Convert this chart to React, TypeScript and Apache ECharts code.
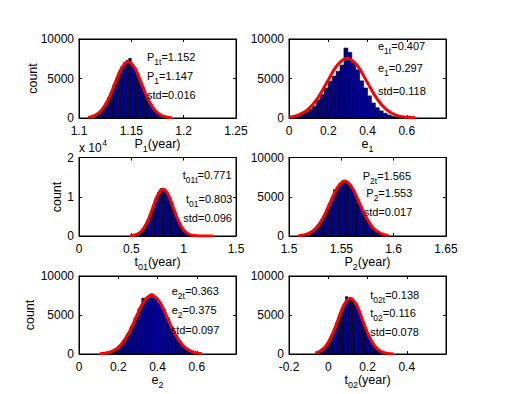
import React, { useEffect, useRef } from "react";
import * as echarts from "echarts";

const FONT = '"Liberation Sans", Arial, Helvetica, sans-serif';

// ---------- Data ----------
// Panel 1: P1 (year)
const p1BinStart = 1.115;
const p1BinWidth = 0.0025;
const p1Counts = [400, 640, 960, 1400, 1950, 2600, 3350, 4300, 5000, 5900, 6500, 7000, 7300, 7550, 6800, 6250, 5500, 4700, 3850, 3050, 2300, 1700, 1200, 800, 530, 330, 200, 110];
const p1CurveX = [1.1086, 1.115, 1.1214, 1.1278, 1.1342, 1.1406, 1.147, 1.1534, 1.1598, 1.1662, 1.1726, 1.179, 1.1854, 1.189];
const p1CurveY = [79, 313, 965, 2315, 4324, 6292, 7130, 6292, 4324, 2315, 965, 313, 79, 33];

// Panel 2: e1
const e1BinStart = 0.02;
const e1BinWidth = 0.02;
const e1Counts = [150, 300, 560, 800, 1100, 1500, 2300, 2950, 3800, 4650, 5300, 5900, 6700, 8850, 8300, 7000, 6100, 4700, 3800, 2800, 1900, 1300, 900, 600, 380, 220, 120, 60];
const e1CurveX = [0, 0.0435, 0.094, 0.1445, 0.195, 0.2455, 0.296, 0.3465, 0.397, 0.4475, 0.498, 0.5485, 0.599, 0.644];
const e1CurveY = [104, 332, 1023, 2455, 4585, 6672, 7560, 6672, 4585, 2455, 1023, 332, 84, 19];

// Panel 3: t01 (year)
const t01BinStart = 0.5;
const t01BinWidth = 0.025;
const t01Counts = [130, 280, 550, 1000, 1750, 2850, 4200, 5850, 7800, 9500, 11100, 12100, 11900, 11200, 9900, 8300, 6300, 4600, 3100, 1950, 1150, 650, 330, 160];
const t01CurveX = [0.487, 0.512, 0.5605, 0.609, 0.6575, 0.706, 0.7545, 0.803, 0.8515, 0.9, 0.9485, 0.997, 1.0455, 1.094, 1.1425, 1.191, 1.283];
const t01CurveY = [59, 133, 527, 1624, 3896, 7278, 10590, 12000, 10590, 7278, 3896, 1624, 527, 133, 26, 4, 0];

// Panel 4: P2 (year)
const p2BinStart = 1.515;
const p2BinWidth = 0.0025;
const p2Counts = [210, 330, 500, 760, 1060, 1500, 2050, 2600, 3350, 4100, 4800, 5900, 6200, 6650, 6950, 7050, 6800, 6450, 5950, 5200, 4500, 3750, 3000, 2350, 1750, 1300, 900, 620, 410, 260, 160, 100];
const p2CurveX = [1.509, 1.5185, 1.5254, 1.5324, 1.5393, 1.5463, 1.5532, 1.5602, 1.5671, 1.5741, 1.581, 1.588, 1.5949];
const p2CurveY = [45, 307, 947, 2273, 4246, 6178, 7000, 6178, 4246, 2273, 947, 307, 78];

// Panel 5: e2
const e2BinStart = 0.14;
const e2BinWidth = 0.02;
const e2Counts = [190, 360, 650, 1080, 1700, 2550, 3500, 4650, 5800, 7150, 7200, 7700, 7250, 6600, 5700, 4650, 3500, 2500, 1700, 1080, 640, 360, 190, 95];
const e2CurveX = [0.107, 0.127, 0.1675, 0.208, 0.2485, 0.289, 0.3295, 0.37, 0.4105, 0.451, 0.4915, 0.532, 0.5725, 0.613, 0.625];
const e2CurveY = [39, 84, 332, 1024, 2458, 4591, 6681, 7570, 6681, 4591, 2458, 1024, 332, 84, 53];

// Panel 6: t02 (year)
const t02BinStart = -0.0625;
const t02BinWidth = 0.0125;
const t02Counts = [200, 340, 540, 830, 1230, 1750, 2400, 3150, 4000, 4850, 5650, 6350, 7350, 7100, 7100, 6800, 6300, 5600, 4750, 3900, 3100, 2350, 1700, 1200, 800, 520, 330];
const t02CurveX = [-0.066, -0.0455, -0.014, 0.0175, 0.049, 0.0805, 0.112, 0.1435, 0.175, 0.2065, 0.238, 0.2695, 0.301, 0.333];
const t02CurveY = [132, 314, 967, 2322, 4336, 6310, 7150, 6310, 4336, 2322, 967, 314, 79, 16];

// Tick settings
const xTicks = [
  { min: 1.1, max: 1.25, interval: 0.05, hideMax: false },
  { min: 0, max: 0.8, interval: 0.2, hideMax: true },
  { min: 0, max: 1.5, interval: 0.5, hideMax: false },
  { min: 1.5, max: 1.65, interval: 0.05, hideMax: false },
  { min: 0, max: 0.8, interval: 0.2, hideMax: true },
  { min: -0.2, max: 0.6, interval: 0.2, hideMax: true },
];
const yTicks = [
  { max: 10000, interval: 5000, scale: 1 },
  { max: 10000, interval: 5000, scale: 1 },
  { max: 20000, interval: 10000, scale: 10000 },
  { max: 10000, interval: 5000, scale: 1 },
  { max: 10000, interval: 5000, scale: 1 },
  { max: 10000, interval: 5000, scale: 1 },
];

type Seg = { t: string; sub?: boolean; sup?: boolean };

// Annotation texts: [segments, x, y]
const annotations: [Seg[], number, number][] = [
  [[{ t: "P" }, { t: "1t", sub: true }, { t: "=1.152" }], 147, 57],
  [[{ t: "P" }, { t: "1", sub: true }, { t: "=1.147" }], 147, 75.5],
  [[{ t: "std=0.016" }], 147, 95],
  [[{ t: "e" }, { t: "1t", sub: true }, { t: "=0.407" }], 378, 46],
  [[{ t: "e" }, { t: "1", sub: true }, { t: "=0.297" }], 378, 67.5],
  [[{ t: "std=0.118" }], 378, 91],
  [[{ t: "t" }, { t: "01t", sub: true }, { t: "=0.771" }], 182.7, 175],
  [[{ t: "t" }, { t: "01", sub: true }, { t: "=0.803" }], 186, 199],
  [[{ t: "std=0.096" }], 183.3, 218],
  [[{ t: "P" }, { t: "2t", sub: true }, { t: "=1.565" }], 362.7, 176],
  [[{ t: "P" }, { t: "2", sub: true }, { t: "=1.553" }], 366.3, 193.3],
  [[{ t: "std=0.017" }], 363.7, 211.5],
  [[{ t: "e" }, { t: "2t", sub: true }, { t: "=0.363" }], 171.7, 291],
  [[{ t: "e" }, { t: "2", sub: true }, { t: "=0.375" }], 171.7, 310],
  [[{ t: "std=0.097" }], 170.7, 330],
  [[{ t: "t" }, { t: "02t", sub: true }, { t: "=0.138" }], 370.3, 295],
  [[{ t: "t" }, { t: "02", sub: true }, { t: "=0.116" }], 370.3, 312.5],
  [[{ t: "std=0.078" }], 370.3, 332],
];

const xTitles: Seg[][] = [
  [{ t: "P" }, { t: "1", sub: true }, { t: "(year)" }],
  [{ t: "e" }, { t: "1", sub: true }],
  [{ t: "t" }, { t: "01", sub: true }, { t: "(year)" }],
  [{ t: "P" }, { t: "2", sub: true }, { t: "(year)" }],
  [{ t: "e" }, { t: "2", sub: true }],
  [{ t: "t" }, { t: "02", sub: true }, { t: "(year)" }],
];

// Layout (pixels)
const grids = [
  { left: 79, top: 39, width: 157, height: 79 },
  { left: 289, top: 39, width: 157, height: 79 },
  { left: 79, top: 157.5, width: 157, height: 78.5 },
  { left: 289, top: 157.5, width: 157, height: 78.5 },
  { left: 79, top: 276, width: 157, height: 78 },
  { left: 289, top: 276, width: 157, height: 78 },
];
const xTitleY = [143.5, 143.5, 262, 262, 380, 380];
const countPos = [
  { x: 33, y: 78.5 },
  { x: 57, y: 197 },
  { x: 30, y: 315 },
];

let measureCtx: CanvasRenderingContext2D | null = null;
function measure(text: string, size: number): number {
  if (!measureCtx) {
    const c = document.createElement("canvas");
    measureCtx = c.getContext("2d");
  }
  if (!measureCtx) return text.length * size * 0.55;
  measureCtx.font = `${size}px ${FONT}`;
  return measureCtx.measureText(text).width;
}

function segText(segs: Seg[], x: number, y: number, align: "left" | "center", size: number, subSize: number, shift: number) {
  const widths = segs.map((s) => measure(s.t, s.sub || s.sup ? subSize : size));
  const total = widths.reduce((a, b) => a + b, 0);
  let cx = align === "left" ? x : x - total / 2;
  const els: any[] = [];
  segs.forEach((s, i) => {
    const fs = s.sub || s.sup ? subSize : size;
    els.push({
      type: "text",
      x: cx,
      y: s.sub ? y + shift : s.sup ? y - shift : y,
      z: 100,
      silent: true,
      style: {
        text: s.t,
        fontSize: fs,
        fontFamily: FONT,
        fill: "#000",
        align: "left",
        verticalAlign: "middle",
      },
    });
    cx += widths[i];
  });
  return els;
}

function bins(start: number, width: number, counts: number[]) {
  return counts.map((c, i) => [start + i * width, start + (i + 1) * width, c]);
}
function pairs(xs: number[], ys: number[]) {
  return xs.map((x, i) => [x, ys[i]]);
}

const histData = [
  bins(p1BinStart, p1BinWidth, p1Counts),
  bins(e1BinStart, e1BinWidth, e1Counts),
  bins(t01BinStart, t01BinWidth, t01Counts),
  bins(p2BinStart, p2BinWidth, p2Counts),
  bins(e2BinStart, e2BinWidth, e2Counts),
  bins(t02BinStart, t02BinWidth, t02Counts),
];
const curveData = [
  pairs(p1CurveX, p1CurveY),
  pairs(e1CurveX, e1CurveY),
  pairs(t01CurveX, t01CurveY),
  pairs(p2CurveX, p2CurveY),
  pairs(e2CurveX, e2CurveY),
  pairs(t02CurveX, t02CurveY),
];

function buildOption() {
  const xAxes: any[] = [];
  const yAxes: any[] = [];
  const series: any[] = [];
  const axisLine = { show: true, onZero: false, lineStyle: { color: "#000", width: 1 } };
  const tick = { show: true, inside: true, length: 3, lineStyle: { color: "#000", width: 1 } };
  grids.forEach((g, i) => {
    const xt = xTicks[i];
    const yt = yTicks[i];
    const xBase = {
      type: "value",
      gridIndex: i,
      min: xt.min,
      max: xt.max,
      interval: xt.interval,
      axisLine,
      axisTick: tick,
      splitLine: { show: false },
    };
    xAxes.push({
      ...xBase,
      position: "bottom",
      axisLabel: {
        color: "#000",
        fontSize: 12,
        fontFamily: FONT,
        margin: 7,
        showMaxLabel: !xt.hideMax,
        showMinLabel: true,
      },
    });
    xAxes.push({ ...xBase, position: "top", axisLabel: { show: false } });
    const yBase = {
      type: "value",
      gridIndex: i,
      min: 0,
      max: yt.max,
      interval: yt.interval,
      axisLine,
      axisTick: tick,
      splitLine: { show: false },
    };
    yAxes.push({
      ...yBase,
      position: "left",
      axisLabel: {
        color: "#000",
        fontSize: 12,
        fontFamily: FONT,
        margin: 5,
        formatter: (v: number) => String(v / yt.scale),
      },
    });
    yAxes.push({ ...yBase, position: "right", axisLabel: { show: false } });

    series.push({
      type: "custom",
      xAxisIndex: 2 * i,
      yAxisIndex: 2 * i,
      data: histData[i],
      encode: { x: [0, 1], y: 2 },
      z: 2,
      renderItem: (params: any, api: any) => {
        const x0 = api.value(0);
        const x1 = api.value(1);
        const y = api.value(2);
        const p0 = api.coord([x0, y]);
        const p1 = api.coord([x1, 0]);
        return {
          type: "rect",
          shape: { x: p0[0], y: p0[1], width: p1[0] - p0[0], height: p1[1] - p0[1] },
          style: { fill: "#00008F", stroke: "#000", lineWidth: 0.6 },
        };
      },
    });
    series.push({
      type: "line",
      xAxisIndex: 2 * i,
      yAxisIndex: 2 * i,
      data: curveData[i],
      smooth: 0.4,
      showSymbol: false,
      symbol: "none",
      z: 3,
      lineStyle: { color: "#FF0000", width: 3 },
    });
  });

  const graphics: any[] = [];
  annotations.forEach(([segs, x, y]) => {
    graphics.push(...segText(segs, x, y, "left", 11, 8.5, 5));
  });
  xTitles.forEach((segs, i) => {
    const g = grids[i];
    graphics.push(...segText(segs, g.left + g.width / 2, xTitleY[i], "center", 12.5, 9, 5));
  });
  countPos.forEach((p) => {
    graphics.push({
      type: "text",
      x: p.x,
      y: p.y,
      rotation: Math.PI / 2,
      z: 100,
      silent: true,
      style: {
        text: "count",
        fontSize: 12.5,
        fontFamily: FONT,
        fill: "#000",
        align: "center",
        verticalAlign: "middle",
      },
    });
  });
  // "x 10^4" multiplier for the t01 panel
  graphics.push({
    type: "text",
    x: 79,
    y: 147.5,
    z: 100,
    silent: true,
    style: { text: "x 10", fontSize: 12, fontFamily: FONT, fill: "#000", align: "left", verticalAlign: "middle" },
  });
  graphics.push({
    type: "text",
    x: 79 + measure("x 10", 12) + 0.5,
    y: 143,
    z: 100,
    silent: true,
    style: { text: "4", fontSize: 8.5, fontFamily: FONT, fill: "#000", align: "left", verticalAlign: "middle" },
  });

  return {
    animation: false,
    backgroundColor: "#ffffff",
    grid: grids.map((g) => ({
      left: g.left,
      top: g.top,
      width: g.width,
      height: g.height,
      show: true,
      borderColor: "#000",
      borderWidth: 1,
      backgroundColor: "#ffffff",
      containLabel: false,
    })),
    xAxis: xAxes,
    yAxis: yAxes,
    series,
    graphic: graphics,
  };
}

export default function App() {
  const ref = useRef<HTMLDivElement>(null);
  useEffect(() => {
    if (!ref.current) return;
    const chart = echarts.init(ref.current, undefined, { renderer: "svg" });
    chart.setOption(buildOption() as any);
    return () => {
      chart.dispose();
    };
  }, []);
  return (
    <div
      ref={ref}
      style={{ position: "absolute", left: 0, top: 0, width: 524, height: 394, background: "#fff" }}
    />
  );
}
